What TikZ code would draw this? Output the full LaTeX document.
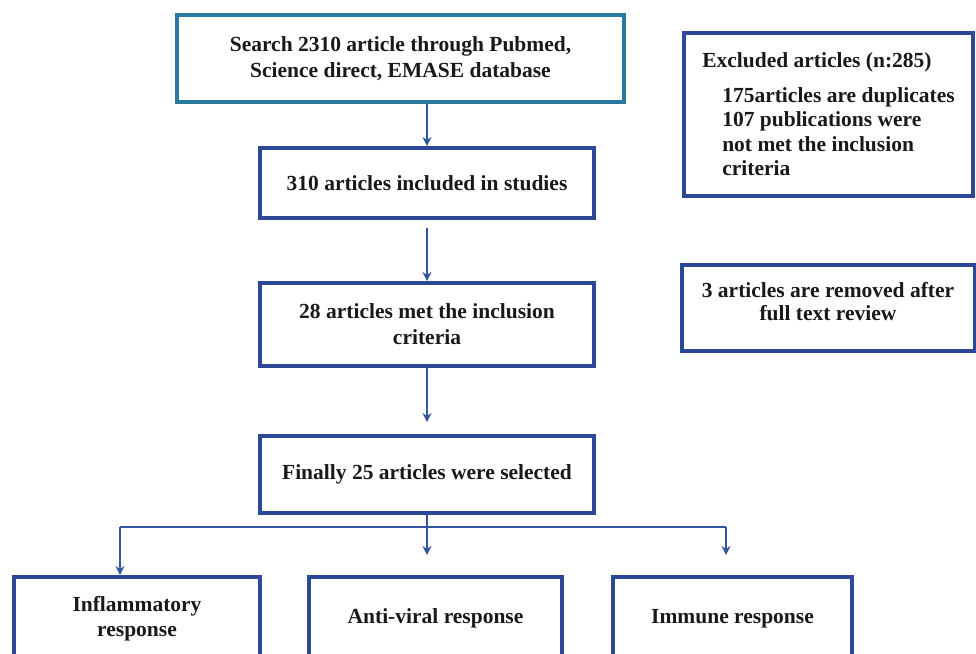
\documentclass[tikz,border=0pt]{standalone}
\usepackage{fontspec}
\setmainfont{Liberation Serif}
\usetikzlibrary{arrows.meta}
\definecolor{boxblue}{RGB}{44,72,150}
\definecolor{boxteal}{RGB}{42,122,160}
\definecolor{arrblue}{RGB}{52,86,160}
\begin{document}
\begin{tikzpicture}[x=1pt,y=-1pt,
  box/.style={draw=boxblue,line width=4pt,rectangle,inner sep=0pt,align=center,
    font=\bfseries\fontsize{21.5}{26}\selectfont,text=black!90},
  arr/.style={draw=arrblue,line width=1.8pt,-{Stealth[length=9pt,width=9pt]}},
  link/.style={draw=arrblue,line width=1.8pt}]
\useasboundingbox (0,0) rectangle (976,653);
\clip (0,0) rectangle (976,653);
\fill[white] (0,0) rectangle (976,653);

\node[box,draw=boxteal,minimum width=447pt,minimum height=87pt] (top) at (400.5,58.5)
  {Search 2310 article through Pubmed,\\Science direct, EMASE database};
\node[box,minimum width=334pt,minimum height=70pt] (b2) at (427,183)
  {310 articles included in studies};
\node[box,minimum width=334pt,minimum height=83pt] (b3) at (427,324.5)
  {28 articles met the inclusion\\criteria};
\node[box,minimum width=334pt,minimum height=77pt] (b4) at (427,474.5)
  {Finally 25 articles were selected};

\node[box,align=left,minimum width=289pt,minimum height=163pt,
  font=\bfseries\fontsize{21.5}{24.5}\selectfont] (excl) at (828.5,114.5)
  {Excluded articles (n:285)\\[10pt]
   \hspace*{20pt}175articles are duplicates\\
   \hspace*{20pt}107 publications were\\
   \hspace*{20pt}not met the inclusion\\
   \hspace*{20pt}criteria};
\node[box,minimum width=293pt,minimum height=86pt,
  font=\bfseries\fontsize{21.5}{23.5}\selectfont] (rem) at (828,308)
  {3 articles are removed after\\full text review\rule[-13pt]{0pt}{1pt}};

\node[box,minimum width=246pt,minimum height=83pt,
  font=\bfseries\fontsize{21.5}{25}\selectfont] (inf) at (137,618.5)
  {Inflammatory\\response};
\node[box,minimum width=253pt,minimum height=83pt] (anti) at (435.5,618.5)
  {Anti-viral response};
\node[box,minimum width=239pt,minimum height=83pt] (imm) at (732.5,618.5)
  {Immune response};

\coordinate (j) at (427,527);
\coordinate (jl) at (120,527);
\coordinate (jr) at (726,527);

\draw[arr] (b2.north |- top.south) -- (b2.north);
\draw[arr,shorten <=8pt] (b2.south) -- (b3.north);
\draw[arr,shorten >=12pt] (b3.south) -- (b4.north);
\draw[link] (b4.south) -- (j);
\draw[link] (jl) -- (jr);
\draw[arr] (jl) -- (jl |- inf.north);
\draw[arr,shorten >=20pt] (j) -- (j |- anti.north);
\draw[arr,shorten >=20pt] (jr) -- (jr |- imm.north);
\end{tikzpicture}
\end{document}
